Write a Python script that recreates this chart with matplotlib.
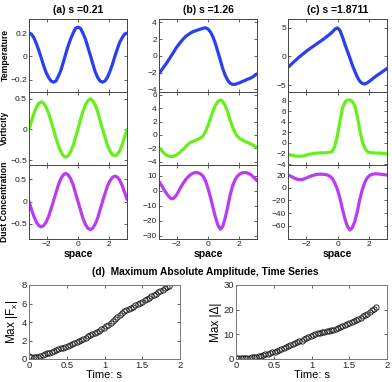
import matplotlib
matplotlib.use("Agg")
import matplotlib.pyplot as plt

plt.rcParams["font.family"] = ["Liberation Sans", "DejaVu Sans"]
plt.rcParams["mathtext.fontset"] = "custom"
plt.rcParams["mathtext.rm"] = "Liberation Sans"
plt.rcParams["mathtext.it"] = "Liberation Sans"

# --- spatial profiles (x = space) ---
space = [-3.14, -2.98, -2.83, -2.67, -2.51, -2.36, -2.20, -2.04, -1.88, -1.73,
         -1.57, -1.41, -1.26, -1.10, -0.94, -0.79, -0.63, -0.47, -0.31, -0.16,
         0.00, 0.16, 0.31, 0.47, 0.63, 0.79, 0.94, 1.10, 1.26, 1.41,
         1.57, 1.73, 1.88, 2.04, 2.20, 2.36, 2.51, 2.67, 2.83, 2.98, 3.14]

temp_a = [0.20, 0.19, 0.16, 0.11, 0.05, -0.01, -0.08, -0.14, -0.18, -0.21,
          -0.22, -0.21, -0.17, -0.12, -0.05, 0.02, 0.09, 0.15, 0.20, 0.24,
          0.25, 0.24, 0.20, 0.15, 0.08, 0.01, -0.06, -0.13, -0.18, -0.21,
          -0.22, -0.21, -0.18, -0.13, -0.07, 0.00, 0.06, 0.12, 0.16, 0.19, 0.20]
vort_a = [0.00, 0.14, 0.26, 0.36, 0.43, 0.45, 0.43, 0.36, 0.26, 0.14,
          0.00, -0.14, -0.26, -0.36, -0.43, -0.45, -0.43, -0.36, -0.26, -0.13,
          0.01, 0.16, 0.29, 0.40, 0.47, 0.50, 0.47, 0.40, 0.29, 0.15,
          0.01, -0.13, -0.25, -0.35, -0.41, -0.43, -0.41, -0.35, -0.25, -0.13, 0.00]
dust_a = [0.00, -0.18, -0.33, -0.46, -0.54, -0.57, -0.54, -0.46, -0.33, -0.17,
          0.01, 0.20, 0.37, 0.51, 0.60, 0.63, 0.60, 0.51, 0.37, 0.19,
          0.00, -0.19, -0.37, -0.51, -0.60, -0.63, -0.60, -0.51, -0.37, -0.19,
          0.00, 0.18, 0.34, 0.46, 0.54, 0.57, 0.55, 0.48, 0.36, 0.21, 0.05]

temp_b = [-2.1, -1.7, -1.3, -0.9, -0.45, 0.0, 0.45, 0.95, 1.35, 1.7,
          2.05, 2.35, 2.55, 2.75, 2.9, 3.0, 3.1, 3.2, 3.3, 3.35,
          3.2, 2.85, 2.3, 1.5, 0.5, -0.5, -1.5, -2.3, -2.9, -3.25,
          -3.4, -3.4, -3.3, -3.2, -3.05, -2.95, -2.8, -2.7, -2.55, -2.35, -2.15]
vort_b = [-1.9, -2.3, -2.7, -3.0, -3.2, -3.25, -3.2, -3.0, -2.75, -2.45,
          -2.1, -1.7, -1.35, -1.1, -0.95, -0.8, -0.65, -0.45, -0.1, 0.5,
          1.4, 2.5, 3.5, 4.4, 5.0, 5.25, 5.0, 4.4, 3.4, 2.3,
          1.2, 0.35, -0.2, -0.55, -0.75, -0.95, -1.1, -1.25, -1.45, -1.65, -1.85]
dust_b = [6.0, 3.5, 0.8, -1.8, -4.0, -5.5, -5.2, -3.3, -0.5, 2.5,
          5.2, 7.5, 9.3, 10.7, 11.6, 12.0, 11.8, 11.0, 9.5, 6.5,
          1.5, -4.5, -11.0, -17.5, -23.0, -25.8, -24.0, -18.5, -11.0, -3.5,
          3.0, 7.0, 9.5, 11.0, 11.8, 12.0, 11.7, 11.0, 9.8, 8.2, 6.5]

temp_c = [-1.9, -1.5, -1.1, -0.7, -0.3, 0.05, 0.4, 0.75, 1.1, 1.4,
          1.7, 2.0, 2.3, 2.6, 2.9, 3.2, 3.55, 3.9, 4.3, 4.75,
          4.95, 4.5, 3.4, 2.1, 0.9, -0.3, -1.5, -2.6, -3.6, -4.3,
          -4.7, -4.8, -4.6, -4.3, -3.95, -3.6, -3.3, -3.0, -2.7, -2.4, -2.1]
vort_c = [-2.1, -2.25, -2.35, -2.45, -2.5, -2.5, -2.45, -2.35, -2.2, -2.1,
          -2.0, -1.95, -1.9, -1.85, -1.85, -1.85, -1.8, -1.75, -1.5, -0.5,
          1.5, 4.2, 6.5, 7.7, 8.1, 8.1, 7.8, 7.0, 5.0, 2.5,
          0.3, -1.0, -1.6, -1.8, -1.85, -1.9, -1.9, -1.9, -1.95, -2.0, -2.05]
dust_c = [20.0, 18.5, 16.5, 14.5, 13.2, 12.8, 13.3, 14.8, 16.5, 18.2,
          19.5, 20.5, 21.2, 21.5, 21.4, 21.0, 20.0, 18.0, 14.0, 7.0,
          -3.0, -17.0, -33.0, -49.0, -61.0, -66.5, -63.0, -53.0, -37.0, -19.0,
          -3.0, 8.5, 15.5, 19.5, 21.3, 22.0, 22.0, 21.7, 21.2, 20.7, 20.2]

col_titles = ["(a) s =0.21", "(b) s =1.26", "(c) s =1.8711"]
row_labels = ["Temperature", "Vorticity", "Dust Concentration"]
profiles = [[temp_a, vort_a, dust_a], [temp_b, vort_b, dust_b], [temp_c, vort_c, dust_c]]
yticks = [[[-0.2, 0, 0.2], [-0.5, 0, 0.5], [-0.5, 0, 0.5]],
          [[-4, -2, 0, 2, 4], [-4, -2, 0, 2, 4, 6], [-30, -20, -10, 0, 10]],
          [[-5, 0, 5], [-4, -2, 0, 2, 4, 6, 8], [-60, -40, -20, 0, 20]]]
ylims = [[(-0.30, 0.32), (-0.58, 0.62), (-0.83, 0.82)],
         [(-4.25, 4.4), (-4.5, 6.5), (-32, 17)],
         [(-6.1, 6.5), (-4.15, 9.7), (-80, 36)]]
line_colors = ["#2a3ef2", "#66f01a", "#b93cf0"]

# --- time series ---
time_s = [0.00, 0.03, 0.06, 0.09, 0.12, 0.15, 0.18, 0.21, 0.24, 0.27, 0.30, 0.33, 0.36,
          0.39, 0.42, 0.45, 0.48, 0.51, 0.54, 0.57, 0.60, 0.63, 0.66, 0.69, 0.72, 0.75,
          0.78, 0.81, 0.84, 0.87, 0.90, 0.93, 0.96, 0.99, 1.02, 1.05, 1.08, 1.11, 1.14,
          1.17, 1.20, 1.23, 1.26, 1.29, 1.32, 1.35, 1.38, 1.41, 1.44, 1.47, 1.50, 1.53,
          1.56, 1.59, 1.62, 1.65, 1.68, 1.71, 1.74, 1.77, 1.80, 1.83, 1.86]
max_fx = [0.33, 0.24, 0.19, 0.20, 0.25, 0.32, 0.40, 0.50, 0.60, 0.70, 0.80, 0.90, 0.98,
          1.07, 1.15, 1.24, 1.33, 1.43, 1.54, 1.65, 1.76, 1.87, 1.98, 2.09, 2.20, 2.32,
          2.44, 2.56, 2.68, 2.80, 2.93, 3.06, 3.20, 3.35, 3.52, 3.70, 3.90, 4.10, 4.32,
          4.55, 4.78, 4.98, 5.16, 5.30, 5.43, 5.55, 5.67, 5.80, 5.93, 6.06, 6.20, 6.34,
          6.48, 6.62, 6.77, 6.91, 7.05, 7.20, 7.34, 7.49, 7.63, 7.78, 7.93]
max_delta = [0.30, 0.30, 0.30, 0.35, 0.40, 0.50, 0.60, 0.72, 0.86, 1.00, 1.20, 1.40, 1.60,
             1.85, 2.10, 2.40, 2.70, 3.00, 3.35, 3.70, 4.05, 4.40, 4.75, 5.10, 5.50, 5.90,
             6.30, 6.70, 7.10, 7.50, 7.95, 8.40, 8.85, 9.30, 9.70, 10.05, 10.35, 10.60, 10.80,
             11.00, 11.20, 11.40, 11.65, 11.90, 12.20, 12.50, 12.85, 13.20, 13.60, 14.00, 14.45, 14.90,
             15.35, 15.80, 16.30, 16.80, 17.30, 17.85, 18.40, 19.00, 19.80, 20.40, 21.00]

W, H = 392, 382
fig = plt.figure(figsize=(W / 100, H / 100), dpi=100)


def px_axes(x0, y0, x1, y1):
    # pixel box measured from the top-left corner
    return fig.add_axes([x0 / W, 1 - y1 / H, (x1 - x0) / W, (y1 - y0) / H])


def style(ax, size, color):
    ax.tick_params(direction="in", length=2, width=0.5, top=True, right=True,
                   labelsize=size, colors="#222222", pad=1.5)
    for sp in ax.spines.values():
        sp.set_linewidth(0.7)
        sp.set_color(color)


col_x = [(29, 127), (159, 257), (288, 387)]
row_y = [(19, 91.5), (91.5, 165), (165, 238.5)]

for c in range(3):
    for r in range(3):
        ax = px_axes(col_x[c][0], row_y[r][0], col_x[c][1], row_y[r][1])
        ax.plot(space, profiles[c][r], color=line_colors[r], lw=2.3, solid_capstyle="round")
        ax.set_xlim(-3.14, 3.14)
        ax.set_ylim(*ylims[c][r])
        ax.set_yticks(yticks[c][r])
        ax.set_yticklabels([f"{v:g}".replace("-", "\u2212") for v in yticks[c][r]])
        ax.set_xticks([-2, 0, 2])
        style(ax, 6, "#444444")
        if r < 2:
            ax.set_xticklabels([])
        else:
            ax.set_xticklabels(["\u22122", "0", "2"])
            ax.set_xlabel("space", fontsize=7.5, fontweight="bold", labelpad=1)
        if r == 0:
            ax.set_title(col_titles[c], fontsize=7.5, fontweight="bold", pad=4)
        if c == 0:
            ax.set_ylabel(row_labels[r], fontsize=6.2, fontweight="bold")
            ax.yaxis.set_label_coords(-0.2, 0.5)

fig.text(205 / W, 1 - 272 / H, "(d)  Maximum Absolute Amplitude, Time Series",
         ha="center", va="center", fontsize=7.3, fontweight="bold")

series = [(max_fx, "Max |F$_x$|", (0, 8), [0, 2, 4, 6, 8], (29, 180)),
          (max_delta, "Max |\u0394|", (0, 30), [0, 10, 20, 30], (236, 387))]
for vals, lab, yl, yt, (x0, x1) in series:
    ax = px_axes(x0, 285, x1, 359)
    ax.plot(time_s, vals, "o", mfc="none", mec="#111111", ms=3.8, mew=0.6)
    ax.set_xlim(0, 2)
    ax.set_ylim(*yl)
    ax.set_xticks([0, 0.5, 1, 1.5, 2])
    ax.set_xticklabels(["0", "0.5", "1", "1.5", "2"])
    ax.set_yticks(yt)
    style(ax, 6.8, "#777777")
    ax.set_xlabel("Time: s", fontsize=8, labelpad=0)
    ax.set_ylabel(lab, fontsize=8.5, labelpad=1)

fig.savefig("out.png", dpi=100)
